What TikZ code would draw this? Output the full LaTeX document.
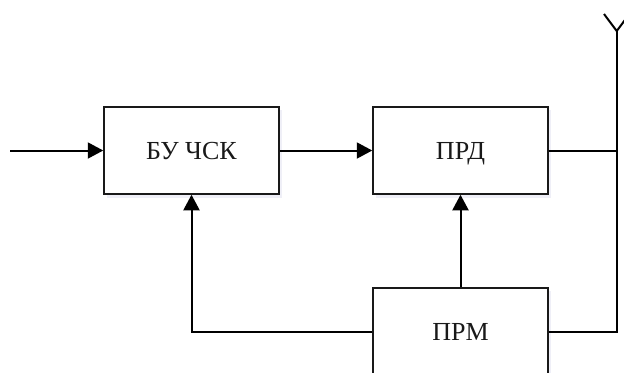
\documentclass[tikz,border=0pt]{standalone}
\usepackage{fontspec}
\setmainfont{Liberation Serif}
\usetikzlibrary{arrows.meta}
\tikzset{
  blockbox/.style={draw=black!90,line width=1.5bp,fill=white,minimum width=175bp,minimum height=87bp,inner sep=0pt,font=\fontsize{26bp}{28bp}\selectfont,text=black!90,text height=17.2bp,text depth=0pt,anchor=center},
  softshade/.style={fill=blue!35!gray,opacity=0.09,draw=none},
  wire/.style={draw=black,line width=2bp},
  flow/.style={wire,-{Triangle[length=15.5bp,width=16bp]}}
}
\begin{document}
\begin{tikzpicture}[x=1bp,y=-1bp]
\useasboundingbox (0,0) rectangle (624,372);
\clip (0,0) rectangle (624,372);
\fill[white] (0,0) rectangle (624,372);
\fill[softshade] (107,110) rectangle (282,198);
\fill[softshade] (376,110) rectangle (551,198);
\fill[softshade] (376,291) rectangle (551,378);
\node[blockbox] (bu) at (191.5,150.5) {БУ ЧСК};
\node[blockbox] (prd) at (460.5,150.5) {ПРД};
\node[blockbox] (prm) at (460.5,331.5) {ПРМ};
\coordinate (in) at (10,150.5);
\coordinate (mastbase) at (616.7,331.5);
\coordinate (masttop) at (616.7,31);
\coordinate (armleft) at (604,14);
\coordinate (armright) at (629.4,14);
\draw[flow] (in) -- (bu.west);
\draw[flow] (bu.east) -- (prd.west);
\draw[flow] (prm.north) -- (prd.south);
\draw[flow] (prm.west) -| (bu.south);
\draw[wire] (prd.east) -- (masttop |- prd.east);
\draw[wire] (prm.east) -- (mastbase) -- (masttop);
\draw[wire] (armleft) -- (masttop) -- (armright);
\end{tikzpicture}
\end{document}
